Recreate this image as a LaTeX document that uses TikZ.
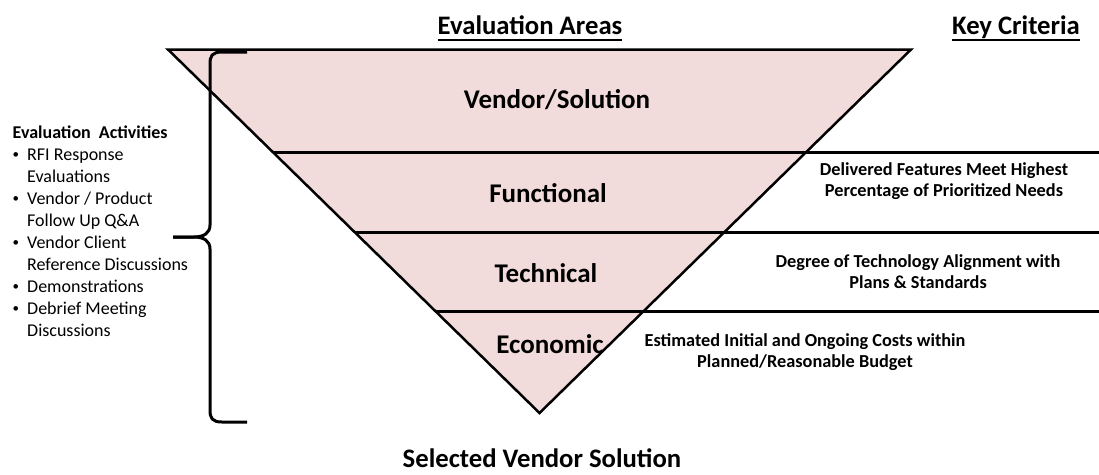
\documentclass[tikz,border=0pt]{standalone}
\usepackage{fontspec}
\setmainfont{Carlito}
\usetikzlibrary{calc}
\definecolor{tri}{HTML}{F2DCDB}
\begin{document}
\begin{tikzpicture}[x=1pt,y=-1pt,
  area/.style={font=\fontsize{27}{32}\selectfont\bfseries, anchor=base, inner sep=0pt},
  crit/.style={font=\fontsize{18.3}{21.7}\selectfont\bfseries, align=center, inner sep=0pt},
  act/.style={font=\fontsize{18}{22}\selectfont, anchor=base west, inner sep=0pt},
  bul/.style={font=\fontsize{13}{15}\selectfont, anchor=base west, inner sep=0pt},
  acthead/.style={font=\fontsize{18}{22}\selectfont\bfseries, anchor=base west, inner sep=0pt},
  head/.style={font=\fontsize{26.7}{32}\selectfont\bfseries, anchor=base, inner sep=0pt},
  triedge/.style={line width=2.5pt, line join=miter},
  sepline/.style={line width=3pt},
  uline/.style={line width=1.8pt},
  bracestyle/.style={line width=3pt, line join=round}]
\useasboundingbox (0,0) rectangle (1099,474);

% triangle
\coordinate (tl) at (168,49.5);
\coordinate (tr) at (911,49.5);
\coordinate (ap) at (539.5,413);
\fill[tri] (tl) -- (tr) -- (ap) -- cycle;

% separator lines
\coordinate (s1l) at ($(tl)!0.282!(ap)$);
\coordinate (s2l) at ($(tl)!0.5025!(ap)$);
\coordinate (s3l) at ($(tl)!0.7197!(ap)$);
\coordinate (s1r) at (1099,152);
\coordinate (s2r) at (1099,232);
\coordinate (s3r) at (1099,311);
\draw[sepline] (s1l) -- (s1l -| s1r);
\draw[sepline] (s2l) -- (s2l -| s2r);
\draw[sepline] (s3l) -- (s3l -| s3r);

\draw[triedge] (tl) -- (tr) -- (ap) -- cycle;

% brace
\coordinate (bt) at (247,52);
\coordinate (bb) at (247,422);
\coordinate (bm) at (173,237);
\draw[bracestyle] (bt) -- (222,52) .. controls (212,52) and (210,56) .. (210,64)
  -- (210,225) .. controls (210,233) and (204,237) .. (194,237) -- (bm);
\draw[bracestyle] (bm) -- (194,237) .. controls (204,237) and (210,241) .. (210,249)
  -- (210,410) .. controls (210,418) and (212,422) .. (222,422) -- (bb);

% headings
\node[head] (ea) at (530,34) {Evaluation Areas};
\draw[uline] ($(ea.base west)+(0,6)$) -- ($(ea.base east)+(0,6)$);
\node[head] (kc) at (1016,34) {Key Criteria};
\draw[uline] ($(kc.base west)+(0,6)$) -- ($(kc.base east)+(0,6)$);
\node[head] (svs) at (542,467) {Selected Vendor Solution};

% areas
\node[area] (vs) at (557,108.7) {Vendor/Solution};
\node[area] (fu) at (548,202.7) {Functional};
\node[area] (te) at (546,282.7) {Technical};
\node[area] (ec) at (550,353.7) {Economic};

% criteria
\node[crit] (c1) at (944,181) {Delivered Features Meet Highest\\Percentage of Prioritized Needs};
\node[crit] (c2) at (918,271.5) {Degree of Technology Alignment with\\Plans \& Standards};
\node[crit] (c3) at (805,352) {Estimated Initial and Ongoing Costs within\\Planned/Reasonable Budget};

% activities
\node[acthead] (ah) at (12.5,138) {Evaluation\ \ Activities};
\node[bul] (b1) at (12.5,158.5) {•};
\node[act] (a1) at (27,160) {RFI Response};
\node[act] (a2) at (27,182) {Evaluations};
\node[bul] (b3) at (12.5,202.5) {•};
\node[act] (a3) at (27,204) {Vendor / Product};
\node[act] (a4) at (27,226) {Follow Up Q\&A};
\node[bul] (b5) at (12.5,246.5) {•};
\node[act] (a5) at (27,248) {Vendor Client};
\node[act] (a6) at (27,270) {Reference Discussions};
\node[bul] (b7) at (12.5,290.5) {•};
\node[act] (a7) at (27,292) {Demonstrations};
\node[bul] (b8) at (12.5,312.5) {•};
\node[act] (a8) at (27,314) {Debrief Meeting};
\node[act] (a9) at (27,336) {Discussions};
\end{tikzpicture}
\end{document}
